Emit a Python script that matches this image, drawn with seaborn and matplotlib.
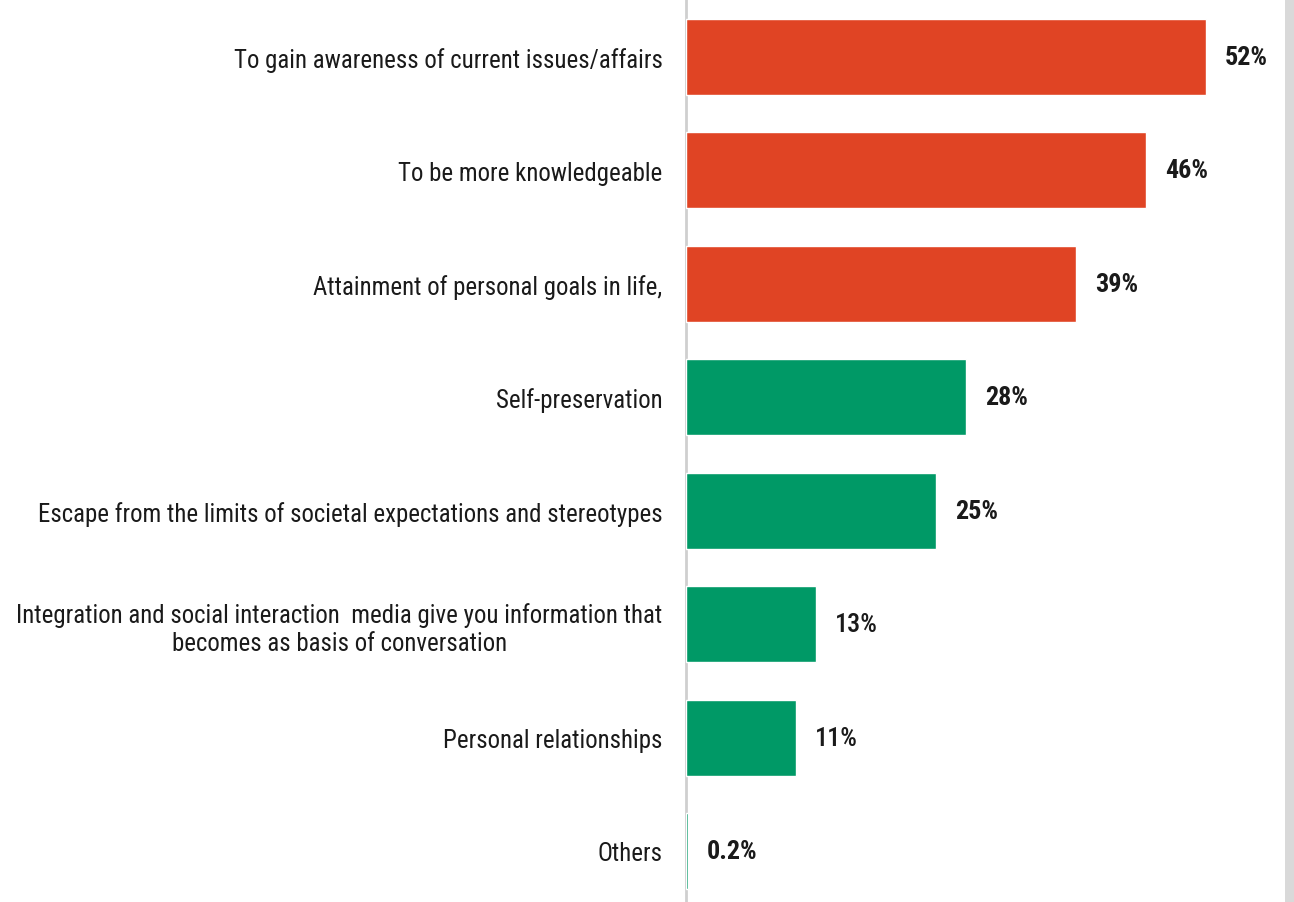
import matplotlib
matplotlib.use("Agg")
import matplotlib.pyplot as plt
import seaborn as sns
import pandas as pd
from matplotlib import font_manager

categories = [
    "To gain awareness of current issues/affairs",
    "To be more knowledgeable",
    "Attainment of personal goals in life,",
    "Self-preservation",
    "Escape from the limits of societal expectations and stereotypes",
    "Integration and social interaction  media give you information that\nbecomes as basis of conversation",
    "Personal relationships",
    "Others",
]
values = [52, 46, 39, 28, 25, 13, 11, 0.2]
value_labels = ["52%", "46%", "39%", "28%", "25%", "13%", "11%", "0.2%"]
groups = ["top", "top", "top", "other", "other", "other", "other", "other"]
palette = {"top": "#E04424", "other": "#009966"}

sns.set_theme(style="white")
names = {f.name for f in font_manager.fontManager.ttflist}
fam = "DejaVu Sans"
for cand in ["Liberation Sans Narrow", "Roboto Condensed", "Open Sans Condensed", "Lato", "Liberation Sans"]:
    if cand in names:
        fam = cand
        break
plt.rcParams["font.family"] = [fam, "DejaVu Sans"]

df = pd.DataFrame({"cat": categories, "val": values, "grp": groups})

fig = plt.figure(figsize=(12.94, 9.03), dpi=100)

# choose font size so the longest single-line label is ~615 px wide
probe = fig.text(0, 0, categories[4], fontsize=10)
r = fig.canvas.get_renderer()
w10 = probe.get_window_extent(r).width
probe.remove()
fs = 10 * 620 / w10

probe = fig.text(0, 0, "52%", fontsize=10, fontweight="bold")
v10 = probe.get_window_extent(r).width
probe.remove()
vfs = 10 * 43 / v10

ax = fig.add_axes([686 / 1294, 0, (1285 - 686) / 1294, 1])
sns.barplot(data=df, y="cat", x="val", hue="grp", palette=palette, dodge=False,
            order=categories, width=0.67, ax=ax, legend=False, saturation=1, zorder=3)

ax.set_xlim(0, 59.9)
ax.set_ylim(7.45, -0.51)
ax.set_xlabel("")
ax.set_ylabel("")
ax.set_xticks([])
for s in ["top", "right", "bottom"]:
    ax.spines[s].set_visible(False)
ax.spines["left"].set_color("#cfcfcf")
ax.spines["left"].set_linewidth(2)
ax.spines["left"].set_zorder(1)
ax.tick_params(axis="y", length=0, pad=17)
for lbl in ax.get_yticklabels():
    lbl.set_fontsize(fs)
    lbl.set_color("#1a1a1a")
    lbl.set_multialignment("center")

weights = ["bold", "bold", "bold", "bold", "bold", "medium", "medium", "bold"]
for i, (v, t) in enumerate(zip(values, value_labels)):
    ax.annotate(t, xy=(v, i), xytext=(19, 0), textcoords="offset pixels",
                va="center", ha="left", fontsize=vfs, fontweight=weights[i], color="#1a1a1a")

fig.patches.append(plt.Rectangle((1285 / 1294, 0), 9 / 1294, 1, transform=fig.transFigure,
                                 facecolor="#d9d9d9", edgecolor="none"))

fig.savefig("out.png", dpi=100)
